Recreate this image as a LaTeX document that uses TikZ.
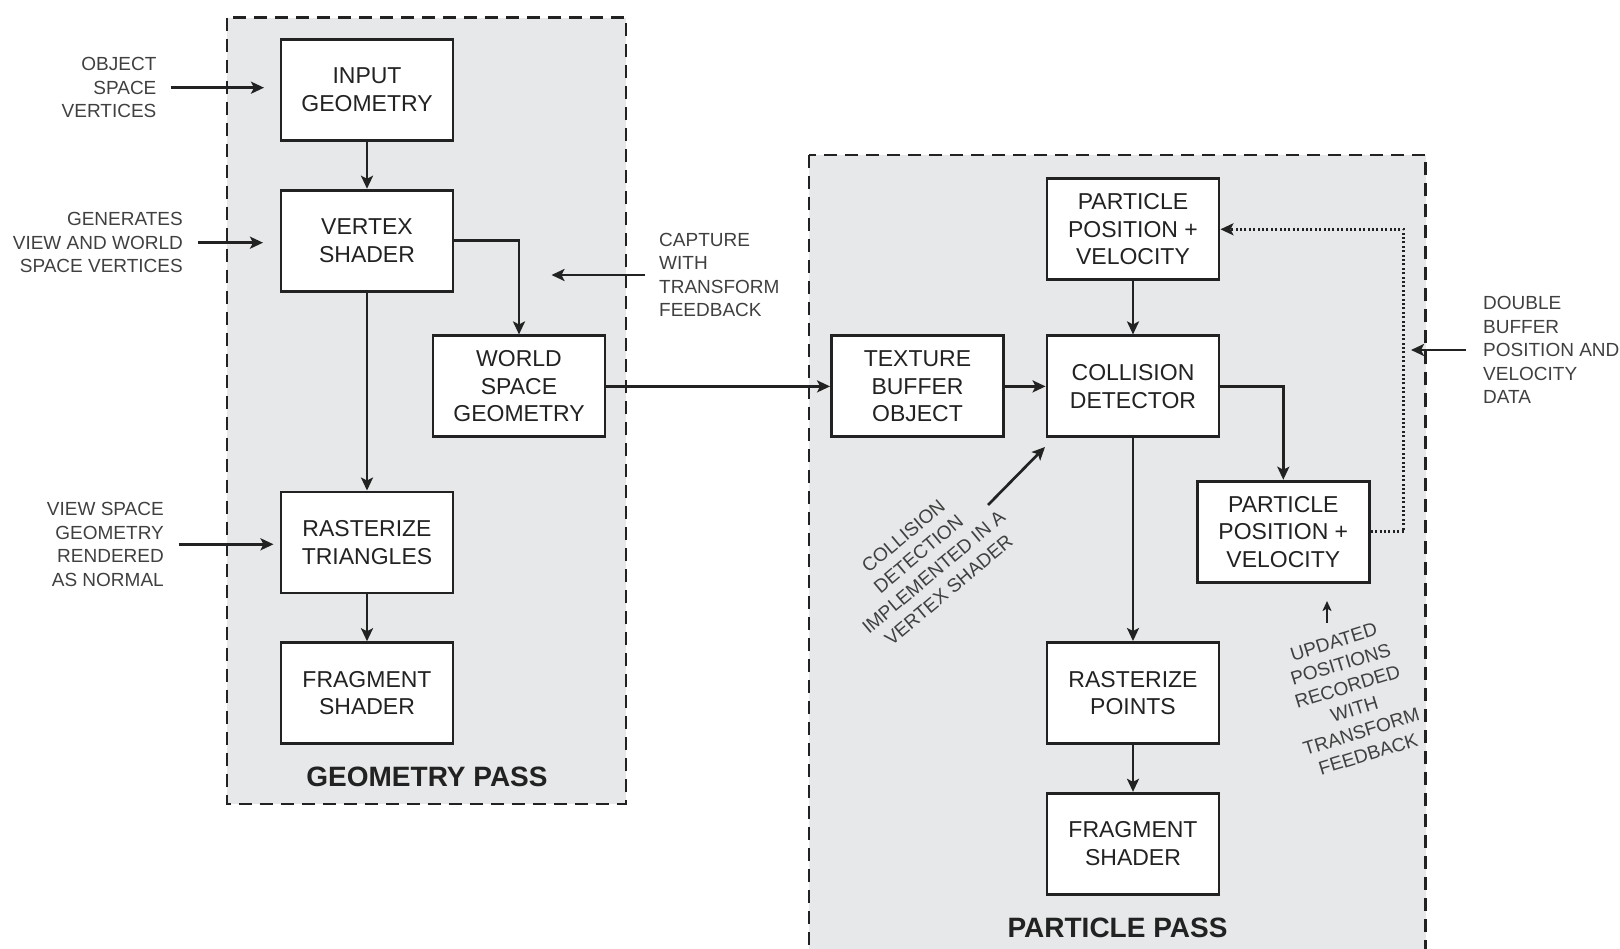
\documentclass[tikz,border=0pt]{standalone}
\usepackage{fontspec}
\setmainfont{Liberation Sans}
\usetikzlibrary{arrows.meta}
\definecolor{passgray}{RGB}{231,232,233}
\definecolor{inkgray}{RGB}{34,34,34}
\definecolor{notegray}{RGB}{64,64,64}
\begin{document}
\begin{tikzpicture}[x=1pt,y=-1pt,
  stage/.style={draw=inkgray,line width=2.9pt,fill=white,minimum width=172pt,minimum height=101pt,align=center,text=inkgray,font=\fontsize{23}{27.5}\selectfont},
  pass/.style={draw=inkgray,line width=2.4pt,fill=passgray,dash pattern=on 13pt off 8pt},
  passname/.style={text=inkgray,font=\fontsize{28}{32}\selectfont\bfseries},
  note/.style={align=#1,text=notegray,inner sep=0pt,font=\fontsize{19}{23.5}\selectfont},
  flow/.style={draw=inkgray,line width=2.7pt,-{Stealth[length=13pt,width=12pt,inset=3pt]}}]
\useasboundingbox (0,0) rectangle (1620,949);
% the two passes
\draw[pass] (227,17.6) rectangle (626,804);
\draw[pass] (809,155) rectangle (1425.5,970);
% geometry pass
\node[stage] (input) at (367,89.7) {INPUT\\GEOMETRY};
\node[stage] (vertex) at (367,240.7) {VERTEX\\SHADER};
\node[stage] (world) at (519,386.4) {WORLD\\SPACE\\GEOMETRY};
\node[stage] (rastri) at (367,542.5) {RASTERIZE\\TRIANGLES};
\node[stage] (frag1) at (367,693.2) {FRAGMENT\\SHADER};
\node[passname] (geompass) at (427,776.7) {GEOMETRY PASS};
% particle pass
\node[stage] (pos1) at (1133,229.3) {PARTICLE\\POSITION +\\VELOCITY};
\node[stage] (tbo) at (917.5,386.4) {TEXTURE\\BUFFER\\OBJECT};
\node[stage] (collide) at (1133,386.4) {COLLISION\\DETECTOR};
\node[stage] (pos2) at (1283.3,531.7) {PARTICLE\\POSITION +\\VELOCITY};
\node[stage] (raspts) at (1133,693) {RASTERIZE\\POINTS};
\node[stage] (frag2) at (1133,843.8) {FRAGMENT\\SHADER};
\node[passname] (partpass) at (1117.5,928.3) {PARTICLE PASS};
% side notes
\node[note=right,anchor=east] (objnote) at (156.6,87.7) {OBJECT\\SPACE\\VERTICES};
\node[note=right,anchor=east] (gennote) at (183,242.7) {GENERATES\\VIEW AND WORLD\\SPACE VERTICES};
\node[note=right,anchor=east] (viewnote) at (164,544.5) {VIEW SPACE\\GEOMETRY\\RENDERED\\AS NORMAL};
\node[note=left,anchor=west] (capnote) at (659,274.9) {CAPTURE\\WITH\\TRANSFORM\\FEEDBACK};
\node[note=left,anchor=west] (dblnote) at (1483,350.3) {DOUBLE\\BUFFER\\POSITION AND\\VELOCITY\\DATA};
\node[note=center,rotate=40] (colnote) at (926,563) {COLLISION\\DETECTION\\IMPLEMENTED IN A\\VERTEX SHADER};
\node[note=center,rotate=17] (updnote) at (1351,698) {UPDATED\\POSITIONS\\RECORDED\\WITH\\TRANSFORM\\FEEDBACK};
% free ends of the note arrows
\coordinate (objfrom) at (170.5,87.7);   \coordinate (objto) at (264,87.7);
\coordinate (genfrom) at (197.8,242.7);  \coordinate (gento) at (263,242.7);
\coordinate (viewfrom) at (178.9,544.3); \coordinate (viewto) at (273.5,544.3);
\coordinate (capfrom) at (645,275);      \coordinate (capto) at (551.5,275);
\coordinate (dblfrom) at (1465.6,350);   \coordinate (dblto) at (1411,350);
\coordinate (colfrom) at (988,505);      \coordinate (colto) at (1045,447);
\coordinate (updfrom) at (1327,623);     \coordinate (updto) at (1327,601);
\draw[flow] (objfrom) -- (objto);
\draw[flow] (genfrom) -- (gento);
\draw[flow] (viewfrom) -- (viewto);
\draw[flow] (capfrom) -- (capto);
\draw[flow] (dblfrom) -- (dblto);
\draw[flow] (colfrom) -- (colto);
\draw[flow,line width=2.2pt,-{Stealth[length=10pt,width=9pt,inset=2.5pt]}] (updfrom) -- (updto);
% stage connectors
\draw[flow] (input) -- (vertex);
\draw[flow] (vertex) -- (rastri);
\draw[flow] (rastri) -- (frag1);
\draw[flow] (vertex.east) -| (world.north);
\draw[flow] (world) -- (tbo);
\draw[flow] (tbo) -- (collide);
\draw[flow] (pos1) -- (collide);
\draw[flow] (collide.east) -| (pos2.north);
\draw[flow] (collide) -- (raspts);
\draw[flow] (raspts) -- (frag2);
\draw[flow,dash pattern=on 2pt off 2.4pt] (pos2.east) -- ++(33,0) |- (pos1.east);
\end{tikzpicture}
\end{document}
